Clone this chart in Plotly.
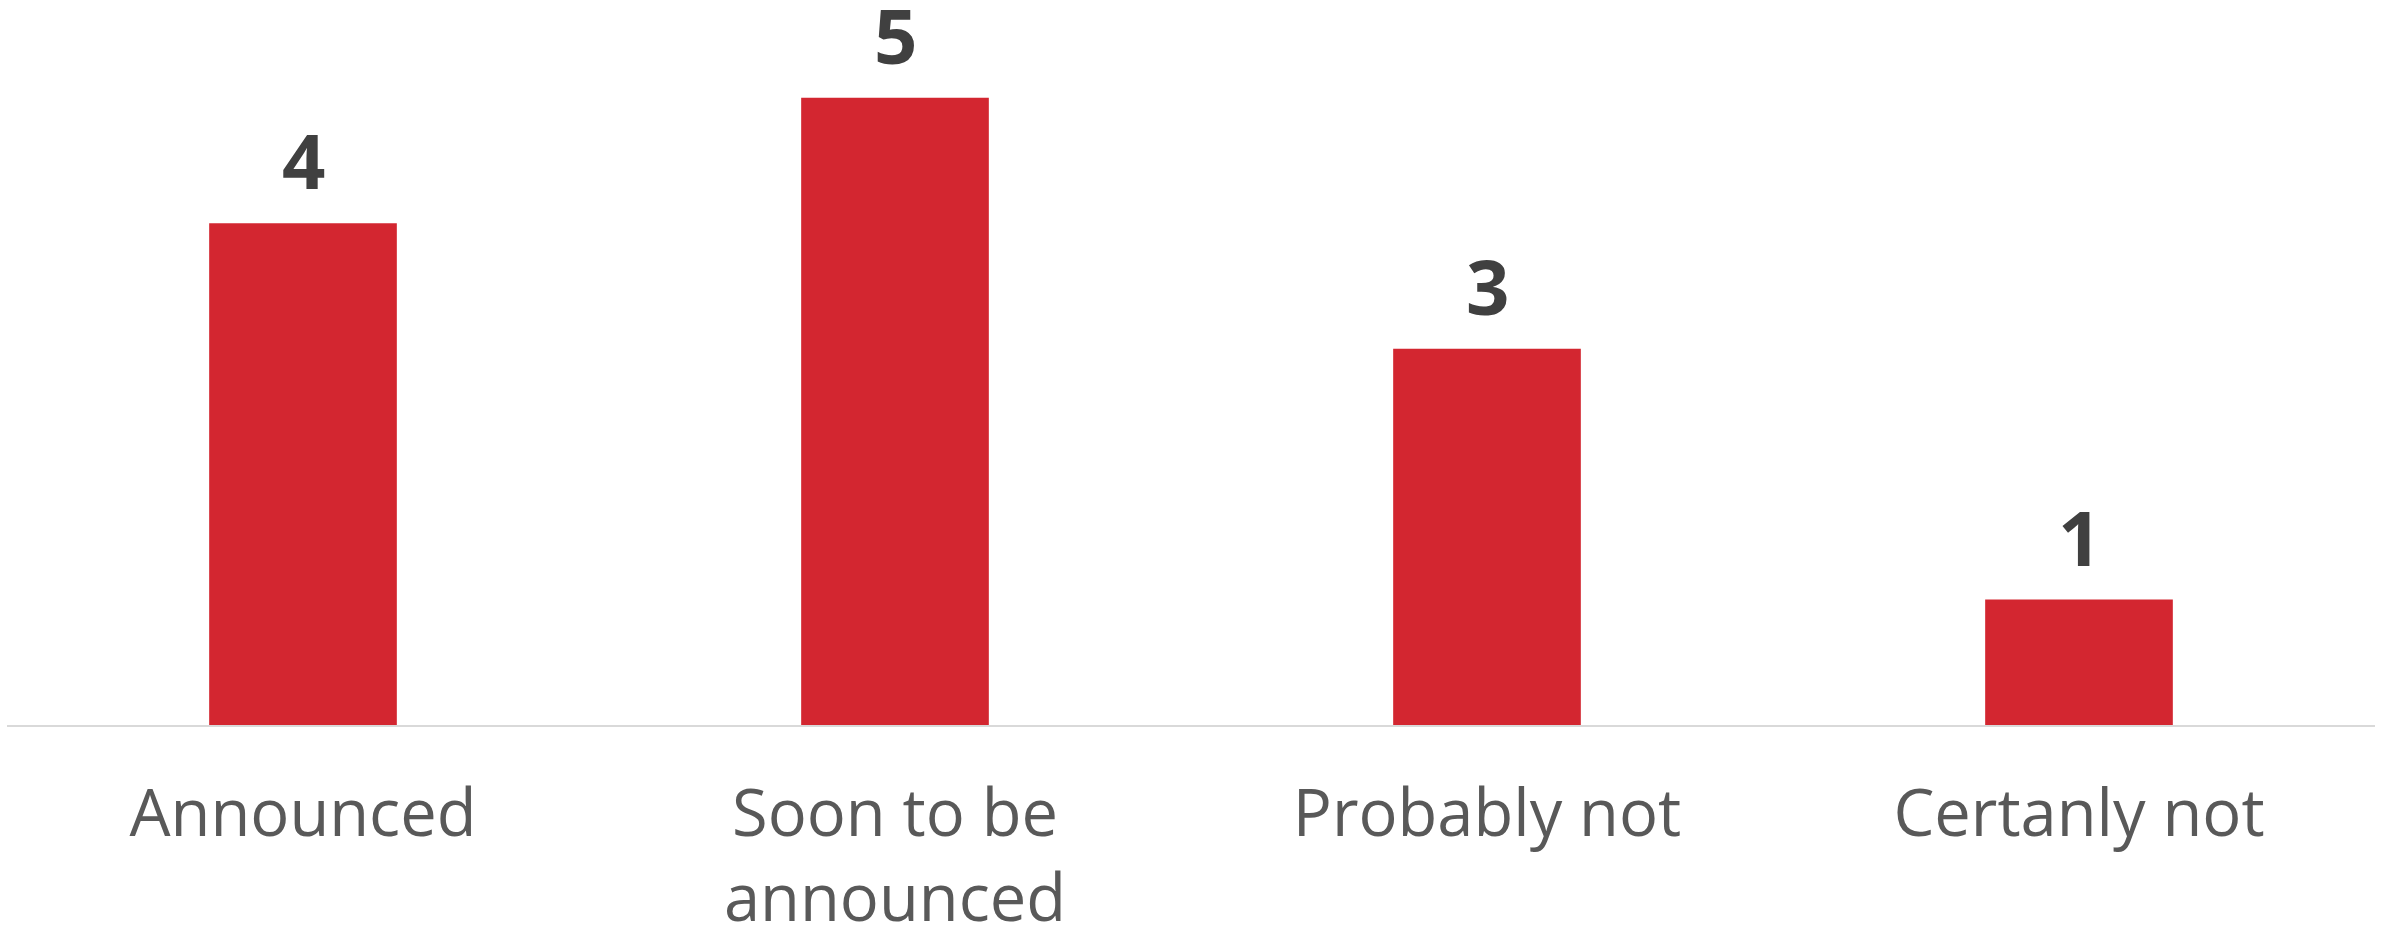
import plotly.graph_objects as go

# Survey outcome counts
categories = ["Announced", "Soon to be<br>announced", "Probably not", "Certanly not"]
counts = [4, 5, 3, 1]

BAR_RED = "#D32630"
VALUE_GREY = "#404040"
LABEL_GREY = "#595959"

fig = go.Figure(
    go.Bar(
        x=categories,
        y=counts,
        marker=dict(color=BAR_RED, line=dict(width=0)),
        hoverinfo="skip",
    )
)

# value labels above each bar
for cat, val in zip(categories, counts):
    fig.add_annotation(
        x=cat, y=val, text=f"<b>{val}</b>", showarrow=False,
        yanchor="bottom", yshift=10,
        font=dict(family="Open Sans", size=76, color=VALUE_GREY),
    )

fig.update_layout(
    width=2392, height=942,
    margin=dict(l=7, r=17, t=0, b=217),
    paper_bgcolor="white", plot_bgcolor="white",
    bargap=0.683,
    showlegend=False,
    xaxis=dict(
        showline=True, linecolor="#D9D9D9", linewidth=2,
        showgrid=False, zeroline=False, ticks="",
        automargin=False,
        ticklabelstandoff=31,
        tickfont=dict(family="Open Sans", size=65, color=LABEL_GREY),
    ),
    yaxis=dict(
        range=[0, 5.78], visible=False, showgrid=False, zeroline=False,
        automargin=False,
    ),
)

fig.write_html("out.html")
